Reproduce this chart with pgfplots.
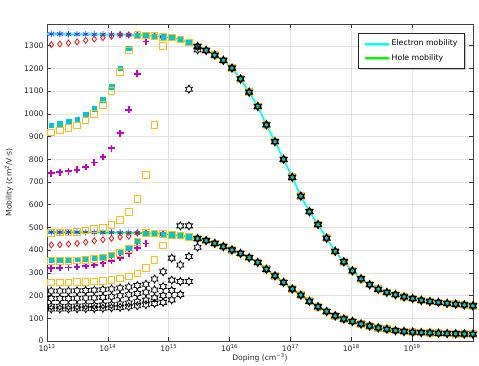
\documentclass[border=0pt]{standalone}
\usepackage{fontspec}
\setmainfont{DejaVu Sans}
\usepackage{pgfplots}
\pgfplotsset{compat=1.18}
\usepackage{pgfplotstable}
\usetikzlibrary{shadows}

\definecolor{cyanL}{RGB}{0,255,255}
\definecolor{greenL}{RGB}{0,255,0}
\definecolor{mBlue}{RGB}{40,60,255}
\definecolor{mRed}{RGB}{230,20,20}
\definecolor{mCyan}{RGB}{0,200,205}
\definecolor{mYel}{RGB}{255,188,20}
\definecolor{mMag}{RGB}{200,0,200}

\pgfdeclareplotmark{hexa}{%
  \pgfpathmoveto{\pgfpointpolar{90}{\pgfplotmarksize}}%
  \pgfpathlineto{\pgfpointpolar{120}{0.577\pgfplotmarksize}}%
  \pgfpathlineto{\pgfpointpolar{150}{\pgfplotmarksize}}%
  \pgfpathlineto{\pgfpointpolar{180}{0.577\pgfplotmarksize}}%
  \pgfpathlineto{\pgfpointpolar{210}{\pgfplotmarksize}}%
  \pgfpathlineto{\pgfpointpolar{240}{0.577\pgfplotmarksize}}%
  \pgfpathlineto{\pgfpointpolar{270}{\pgfplotmarksize}}%
  \pgfpathlineto{\pgfpointpolar{300}{0.577\pgfplotmarksize}}%
  \pgfpathlineto{\pgfpointpolar{330}{\pgfplotmarksize}}%
  \pgfpathlineto{\pgfpointpolar{0}{0.577\pgfplotmarksize}}%
  \pgfpathlineto{\pgfpointpolar{30}{\pgfplotmarksize}}%
  \pgfpathlineto{\pgfpointpolar{60}{0.577\pgfplotmarksize}}%
  \pgfpathclose
  \pgfusepathqstroke}

% curve values (row 0 = left edge, rows 1..50 = doping sweep points)
\pgfplotstableread{
x e h
1.000e13 1352 479
1.175e13 1352 479
1.627e13 1352 479
2.253e13 1351 479
3.120e13 1351 479
4.321e13 1351 478
5.984e13 1350 478
8.287e13 1350 478
1.148e14 1350 478
1.589e14 1349 477
2.201e14 1348 477
3.048e14 1347 476
4.221e14 1345 475
5.845e14 1343 473
8.094e14 1340 471
1.121e15 1336 468
1.552e15 1327 464
2.150e15 1314 458
2.977e15 1297 451
4.123e15 1280 442
5.709e15 1259 430
7.907e15 1236 416
1.095e16 1202 401
1.516e16 1154 386
2.100e16 1096 367
2.908e16 1033 346
4.027e16 952 316
5.576e16 878 287
7.723e16 800 258
1.070e17 721 229
1.481e17 638 202
2.051e17 570 175
2.840e17 513 151
3.933e17 453 130
5.447e17 395 111
7.544e17 349 97
1.045e18 309 86
1.447e18 274 75
2.004e18 248 66
2.774e18 228 58
3.842e18 214 52
5.321e18 204 46
7.368e18 194 42
1.020e19 187 39
1.413e19 179 37
1.957e19 174 36
2.710e19 170 34
3.753e19 166 33
5.198e19 162 32
7.197e19 159 31
9.970e19 155 30
}\curve

% low-doping deviations of the marker series
\pgfplotstableread{
x Be Bh Ce Ch Ye1 Yh1 Ye2 Yh2 Ee Eh Sa Sb Sc Sd
1.175e13 1305 423 951 357 919 352 476 257 739 320 220 187 153 141
1.627e13 1308 424 958 357 927 352 477 257 743 322 220 187 153 141
2.253e13 1312 427 966 358 937 353 478 258 748 324 220 187 153 141
3.120e13 1317 430 977 360 949 355 481 259 754 326 221 188 154 142
4.321e13 1324 435 996 363 971 358 486 260 766 330 222 189 155 142
5.984e13 1330 441 1022 366 999 361 492 262 786 335 224 190 156 143
8.287e13 1336 446 1062 372 1040 367 500 265 810 342 226 192 158 144
1.148e14 1342 452 1121 381 1100 375 512 269 849 353 229 195 160 146
1.589e14 nan 458 1202 393 1184 387 533 275 915 367 233 199 163 148
2.201e14 nan 462 1290 410 1279 405 568 284 1018 386 238 204 167 151
3.048e14 nan nan nan 440 nan 436 626 298 1177 410 244 209 173 155
4.221e14 nan nan nan nan nan nan 730 322 1319 430 250 215 180 160
5.845e14 nan nan nan nan nan nan 950 357 nan nan 273 225 190 165
8.094e14 nan nan nan nan nan nan 1300 420 nan nan 305 240 200 170
1.121e15 nan nan nan nan nan nan nan nan nan nan 365 268 222 181
1.552e15 nan nan nan nan nan nan nan nan nan nan 507 335 262 205
2.150e15 nan nan nan nan nan nan nan nan nan nan 1109 507 372 262
2.977e15 nan nan nan nan nan nan nan nan nan nan 1282 nan nan 413
}\dev

\begin{document}
\begin{tikzpicture}
\begin{axis}[
  name=ax, at={(0,0)}, anchor=south west,
  scale only axis, width=426pt, height=317pt,
  xmode=log, log basis x=10,
  xmin=1e13, xmax=1e20, ymin=0, ymax=1396,
  xtick={1e13,1e14,1e15,1e16,1e17,1e18,1e19},
  xticklabels={10\textsuperscript{13},10\textsuperscript{14},10\textsuperscript{15},10\textsuperscript{16},10\textsuperscript{17},10\textsuperscript{18},10\textsuperscript{19}},
  ytick={0,100,...,1300},
  /pgf/number format/assume math mode=true,
  /pgf/number format/1000 sep={},
  tick label style={font=\fontsize{7.6}{9}\selectfont, text=black!85},
  grid=both,
  major grid style={gray!22, line width=0.5pt},
  minor grid style={gray!16, line width=0.4pt},
  tick align=inside,
  major tick length=4pt, minor tick length=3.5pt,
  tick style={black!80, line width=0.6pt},
  axis line style={black!75, line width=0.9pt},
  xtick pos=both, ytick pos=both,
  every axis x label/.style={at={(axis description cs:0.5,0)}, yshift=-17pt, anchor=center},
  every axis y label/.style={at={(axis description cs:0,0.5)}, xshift=-38pt, rotate=90, anchor=center},
  label style={font=\fontsize{7.6}{9}\selectfont, text=black!85},
  xlabel={Doping (cm\textsuperscript{−3})},
  ylabel={Mobility (cm\textsuperscript{2}/V·s)},
  legend style={at={(1,1)}, anchor=north east, xshift=-8pt, yshift=-9pt,
    draw=black!85, line width=0.8pt, fill=white,
    font=\fontsize{7.8}{9.5}\selectfont, inner xsep=5pt, inner ysep=4.5pt,
    row sep=3pt,
    drop shadow={shadow xshift=1.4pt, shadow yshift=-1.4pt, fill=black!45}},
  legend cell align=left,
  legend image code/.code={\draw[#1, line width=1.8pt] (0pt,0pt) -- (24pt,0pt);},
  clip=true,
]
% ---- blue asterisks (follow both curves)
\addplot[only marks, mark=asterisk, mark size=3.2pt, mBlue, line width=0.8pt, forget plot,
  skip coords between index={0}{1}] table[x=x,y=e]{\curve};
\addplot[only marks, mark=asterisk, mark size=3.2pt, mBlue, line width=0.8pt, forget plot,
  skip coords between index={0}{1}] table[x=x,y=h]{\curve};
% ---- red diamonds
\addplot[only marks, mark=diamond, mark size=3pt, mRed, line width=0.8pt, forget plot] table[x=x,y=Be]{\dev};
\addplot[only marks, mark=diamond, mark size=3pt, mRed, line width=0.8pt, forget plot] table[x=x,y=Bh]{\dev};
\addplot[only marks, mark=diamond, mark size=3pt, mRed, line width=0.8pt, forget plot,
  skip coords between index={0}{9}] table[x=x,y=e]{\curve};
\addplot[only marks, mark=diamond, mark size=3pt, mRed, line width=0.8pt, forget plot,
  skip coords between index={0}{11}] table[x=x,y=h]{\curve};
% ---- magenta plus
\addplot[only marks, mark=+, mark size=3.4pt, mMag, line width=1.7pt, forget plot] table[x=x,y=Ee]{\dev};
\addplot[only marks, mark=+, mark size=3.4pt, mMag, line width=1.7pt, forget plot] table[x=x,y=Eh]{\dev};
\addplot[only marks, mark=+, mark size=3.4pt, mMag, line width=1.7pt, forget plot,
  skip coords between index={0}{13}] table[x=x,y=e]{\curve};
\addplot[only marks, mark=+, mark size=3.4pt, mMag, line width=1.7pt, forget plot,
  skip coords between index={0}{13}] table[x=x,y=h]{\curve};
% ---- cyan filled squares
\addplot[only marks, mark=square*, mark size=2.3pt, mCyan, forget plot] table[x=x,y=Ce]{\dev};
\addplot[only marks, mark=square*, mark size=2.3pt, mCyan, forget plot] table[x=x,y=Ch]{\dev};
\addplot[only marks, mark=square*, mark size=2.3pt, mCyan, forget plot,
  skip coords between index={0}{11}] table[x=x,y=e]{\curve};
\addplot[only marks, mark=square*, mark size=2.3pt, mCyan, forget plot,
  skip coords between index={0}{12}] table[x=x,y=h]{\curve};
% ---- yellow open squares
\addplot[only marks, mark=square, mark size=3.3pt, mYel, line width=1pt, forget plot] table[x=x,y=Ye1]{\dev};
\addplot[only marks, mark=square, mark size=3.3pt, mYel, line width=1pt, forget plot] table[x=x,y=Yh1]{\dev};
\addplot[only marks, mark=square, mark size=3.3pt, mYel, line width=1pt, forget plot] table[x=x,y=Ye2]{\dev};
\addplot[only marks, mark=square, mark size=3.3pt, mYel, line width=1pt, forget plot] table[x=x,y=Yh2]{\dev};
\addplot[only marks, mark=square, mark size=3.3pt, mYel, line width=1pt, forget plot,
  skip coords between index={0}{11}] table[x=x,y=e]{\curve};
\addplot[only marks, mark=square, mark size=3.3pt, mYel, line width=1pt, forget plot,
  skip coords between index={0}{12}] table[x=x,y=h]{\curve};
% ---- black hexagrams
\addplot[only marks, mark=hexa, mark size=4pt, black, line width=0.8pt, forget plot] table[x=x,y=Sa]{\dev};
\addplot[only marks, mark=hexa, mark size=4pt, black, line width=0.8pt, forget plot] table[x=x,y=Sb]{\dev};
\addplot[only marks, mark=hexa, mark size=4pt, black, line width=0.8pt, forget plot] table[x=x,y=Sc]{\dev};
\addplot[only marks, mark=hexa, mark size=4pt, black, line width=0.8pt, forget plot] table[x=x,y=Sd]{\dev};
\addplot[only marks, mark=hexa, mark size=3.8pt, black, line width=1.3pt, forget plot,
  skip coords between index={0}{18}] table[x=x,y=e]{\curve};
\addplot[only marks, mark=hexa, mark size=3.8pt, black, line width=1.3pt, forget plot,
  skip coords between index={0}{18}] table[x=x,y=h]{\curve};
% ---- model curves
\addplot[cyanL, line width=1.7pt, no marks] table[x=x,y=e]{\curve};
\addlegendentry{Electron mobility}
\addplot[greenL, line width=1.7pt, no marks] table[x=x,y=h]{\curve};
\addlegendentry{Hole mobility}
\end{axis}
\pgfresetboundingbox
\path[use as bounding box] (-47pt,-25pt) rectangle (432pt,341pt);
\end{tikzpicture}
\end{document}
